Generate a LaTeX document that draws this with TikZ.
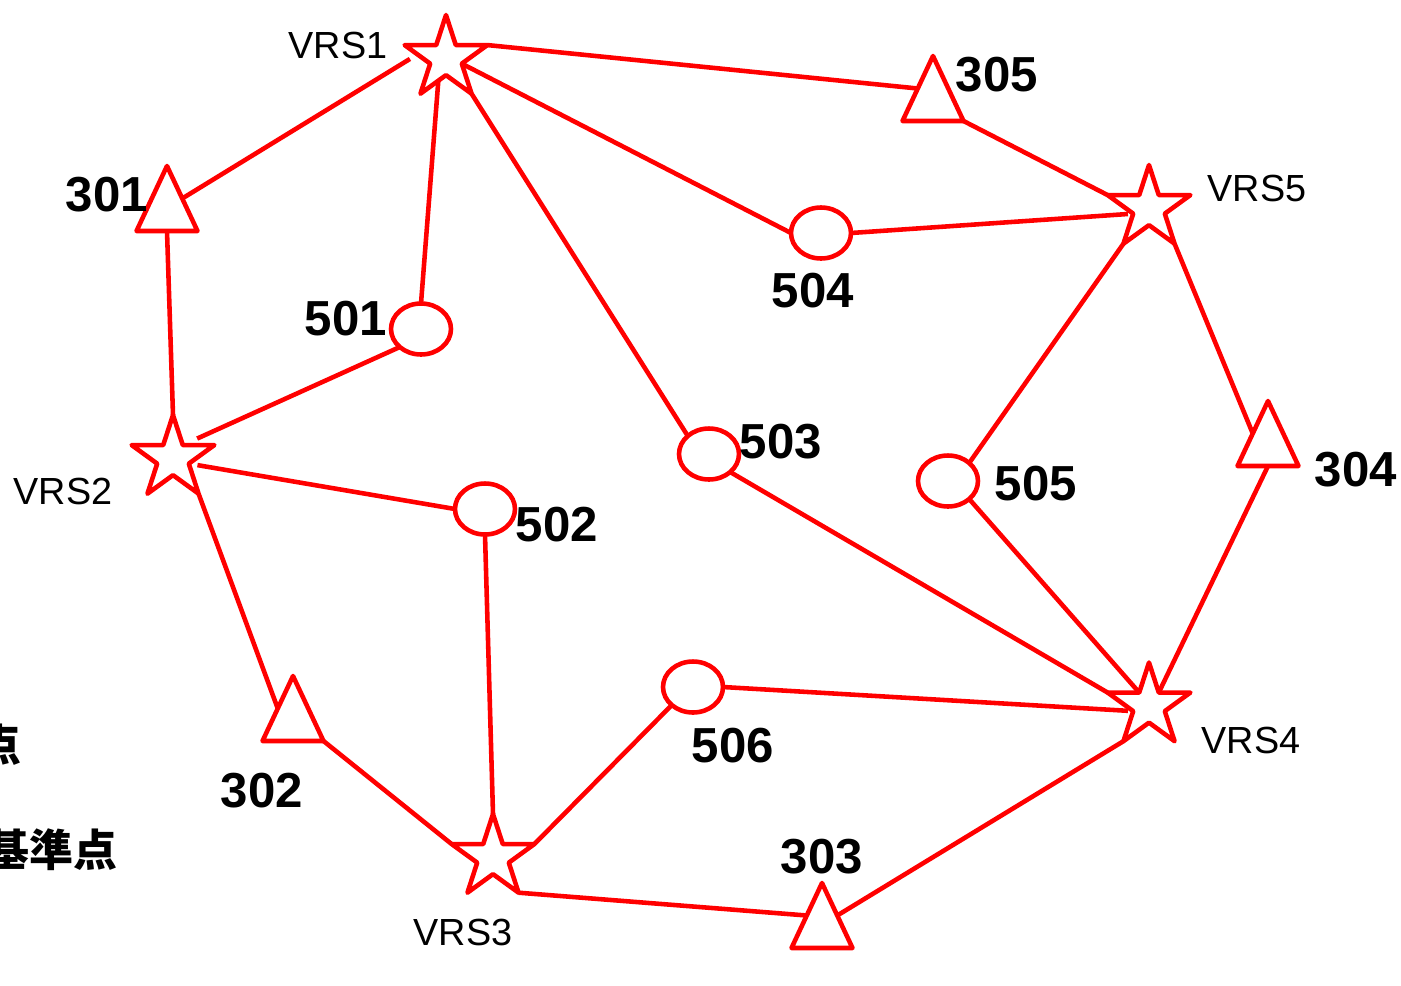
\documentclass[tikz,border=0pt]{standalone}
\usepackage{fontspec}
\setmainfont{Liberation Sans}
\newfontfamily\cjk{Noto Sans CJK JP}
\usetikzlibrary{shapes.geometric,calc}
\begin{document}
\begin{tikzpicture}[x=0.02cm,y=-0.02cm,
  edge/.style={red, line width=2.6pt},
  vrs/.style={star, star points=5, star point ratio=2.618, minimum size=1.74cm, inner sep=0pt, outer sep=0pt, draw=red, line width=2.6pt, line join=round},
  tri/.style={isosceles triangle, shape border rotate=90, isosceles triangle stretches, minimum width=1.22cm, minimum height=1.3cm, inner sep=0pt, outer sep=0pt, draw=red, line width=2.6pt, line join=round, anchor=apex},
  pt/.style={ellipse, minimum width=1.2cm, minimum height=1.02cm, inner sep=0pt, outer sep=0pt, draw=red, line width=2.6pt},
  num/.style={font=\fontsize{28}{30}\selectfont\bfseries, inner sep=0pt},
  vl/.style={font=\fontsize{21.5}{24}\selectfont, inner sep=0pt},
  jp/.style={font=\cjk\bfseries\fontsize{25}{28}\selectfont, inner sep=0pt, anchor=east},
]
\useasboundingbox (0,0) rectangle (1401,985);
\clip (0,0) rectangle (1401,985);
% stars
\node[vrs] (v1) at (446,58.5) {};
\node[vrs] (v2) at (173,458.5) {};
\node[vrs] (v3) at (493,857.5) {};
\node[vrs] (v4) at (1149,706) {};
\node[vrs] (v5) at (1149,208.5) {};
% triangles
\node[tri] (t305) at (933,56) {};
\node[tri] (t301) at (167,166) {};
\node[tri] (t304) at (1268,401) {};
\node[tri] (t302) at (293,676) {};
\node[tri] (t303) at (822,883) {};
% circles
\node[pt] (c504) at (821,233) {};
\node[pt] (c501) at (421,329) {};
\node[pt] (c503) at (709,454) {};
\node[pt] (c505) at (948,481) {};
\node[pt] (c502) at (485,509) {};
\node[pt] (c506) at (693,687) {};
% connector end points near stars
\coordinate (a1) at ($(v1.outer point 2)!0.5!(v1.inner point 2)$);
\coordinate (a2) at ($(v1.inner point 3)!0.3!(v1.outer point 3)$);
% edges
\draw[edge] (v1.outer point 5) -- (t305.left side);
\draw[edge, shorten >=5pt] (t301.right side) -- (a1);
\draw[edge] (c501.north) -- (a2);
\draw[edge] (v1.outer point 4) -- (c503.north west);
\draw[edge] (v1.inner point 4) -- (c504.west);
\draw[edge] (t305.right corner) -- (v5.outer point 2);
\draw[edge, shorten >=3pt] (c504.east) -- (v5.inner point 2);
\draw[edge] (v5.outer point 3) -- (c505.north east);
\draw[edge] (v5.outer point 4) -- (t304.left side);
\draw[edge] (t301.lower side) -- (v2.outer point 1);
\draw[edge, shorten >=9pt] (c501.south west) -- (v2.inner point 5);
\draw[edge, shorten <=5pt] (v2.inner point 4) -- (c502.west);
\draw[edge] (v2.outer point 4) -- (t302.left side);
\draw[edge] (c502.south) -- (v3.outer point 1);
\draw[edge] (t302.right corner) -- (v3.outer point 2);
\draw[edge] (v3.outer point 5) -- (c506.south west);
\draw[edge] (v3.outer point 4) -- (t303.left side);
\draw[edge] (c503.south east) -- (v4.outer point 2);
\draw[edge] (c505.south east) -- (v4.inner point 1);
\draw[edge, shorten >=3pt] (c506.east) -- (v4.inner point 2);
\draw[edge] (t304.lower side) -- (v4.inner point 5);
\draw[edge] (t303.right side) -- (v4.outer point 3);
% labels
\node[vl] (lv1) at (338,45) {VRS1};
\node[vl] (lv2) at (63,491) {VRS2};
\node[vl] (lv3) at (463,932) {VRS3};
\node[vl] (lv4) at (1251,740) {VRS4};
\node[vl] (lv5) at (1257,188) {VRS5};
\node[num] (l301) at (107,195) {301};
\node[num] (l302) at (262,791) {302};
\node[num] (l303) at (822,857) {303};
\node[num] (l304) at (1356,470) {304};
\node[num] (l305) at (997,75) {305};
\node[num] (l501) at (346,319) {501};
\node[num] (l502) at (557,525) {502};
\node[num] (l503) at (781,442) {503};
\node[num] (l504) at (813,291) {504};
\node[num] (l505) at (1036,484) {505};
\node[num] (l506) at (733,746) {506};
\node[jp] (j1) at (22,745) {点};
\node[jp] (j2) at (118,850) {基準点};
\end{tikzpicture}
\end{document}
